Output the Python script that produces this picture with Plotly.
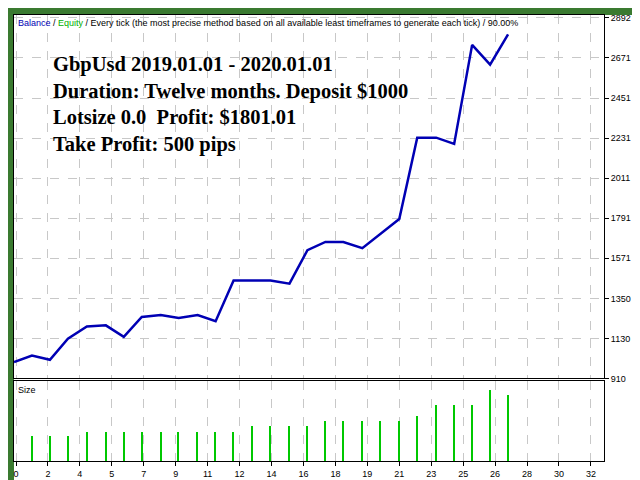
import plotly.graph_objects as go

x_labels = ["0","2","4","5","7","9","11","12","14","16","18","19","21","23","25","26","28","30","32"]
trade_px = [5,23,41,59,78,97,115,133,152,170,189,207,225,244,262,281,299,317,335,354,372,391,409,428,446,464,482,500]
balance = [1000,1036,1013,1128,1196,1202,1139,1248,1259,1242,1259,1225,1448,1448,1448,1431,1615,1660,1660,1626,1706,1786,2233,2233,2199,2743,2634,2801]
sizes = [4.7,4.7,4.7,5.5,5.5,5.5,5.5,5.5,5.5,5.5,5.5,5.5,6.5,6.5,6.5,6.5,7.5,7.5,7.5,7.5,7.5,8.5,10.5,10.5,10.5,13.3,12.3]
y_ticks = [910,1130,1350,1571,1791,2011,2231,2451,2671,2892]

xpos = [(p - 7) / 32 for p in trade_px]
bar_x = xpos[1:]

fig = go.Figure()
fig.add_trace(go.Scatter(x=xpos, y=balance, mode="lines", line=dict(color="#0000b4", width=2.5),
                         xaxis="x", yaxis="y", showlegend=False))
fig.add_trace(go.Bar(x=bar_x, y=sizes, width=0.045, marker=dict(color="#00c800", line=dict(width=0)),
                     xaxis="x2", yaxis="y2", showlegend=False))

grid = dict(showgrid=True, gridcolor="#c8c8c8", griddash="dash", gridwidth=1)
xr = [-0.0625, 18.41]
fig.update_layout(
    width=640, height=480,
    margin=dict(l=5, r=44, t=5, b=27),
    paper_bgcolor="#3a7a30", plot_bgcolor="white",
    font=dict(family="Liberation Sans", size=9, color="black"),
    xaxis=dict(domain=[0, 1], range=xr, tickvals=list(range(len(x_labels))), showticklabels=False,
               anchor="y", showline=True, linecolor="black", mirror=True, ticks="", zeroline=False, **grid),
    yaxis=dict(domain=[0.185, 1], range=[910, 2892 + 15], side="right", tickvals=y_ticks,
               ticks="outside", ticklen=4, tickcolor="black", showline=True, linecolor="black",
               mirror=True, zeroline=False, anchor="x", **grid),
    xaxis2=dict(domain=[0, 1], range=xr, tickvals=list(range(len(x_labels))), ticktext=x_labels,
                anchor="y2", showline=True, linecolor="black", mirror=True, ticks="outside",
                ticklen=4, tickcolor="black", zeroline=False, **grid),
    yaxis2=dict(domain=[0, 0.18], range=[0, 15], showticklabels=False, showgrid=False,
                showline=True, linecolor="black", mirror=True, zeroline=False, anchor="x2"),
    bargap=0,
    shapes=[dict(type="rect", xref="paper", yref="paper", x0=0, x1=1.066, y0=-0.049, y1=1,
                 fillcolor="white", line=dict(width=0), layer="below")],
    annotations=[
        dict(xref="paper", yref="paper", x=0.003, y=0.998, xanchor="left", yanchor="top", showarrow=False,
             text="<span style='color:#0000b4'>Balance</span> / <span style='color:#00b000'>Equity</span> / Every tick (the most precise method based on all available least timeframes to generate each tick) / 90.00%",
             font=dict(size=9, family="Liberation Sans")),
        dict(xref="paper", yref="paper", x=0.062, y=0.92, xanchor="left", yanchor="top", showarrow=False, align="left",
             text="<b>GbpUsd 2019.01.01 - 2020.01.01<br>Duration: Twelve months. Deposit $1000<br>Lotsize 0.0  Profit: $1801.01<br>Take Profit: 500 pips</b>",
             font=dict(size=20.5, family="Liberation Serif", color="black")),
        dict(xref="paper", yref="paper", x=0.003, y=0.175, xanchor="left", yanchor="top", showarrow=False,
             text="Size", font=dict(size=9)),
    ],
)
fig.write_html("out.html")
